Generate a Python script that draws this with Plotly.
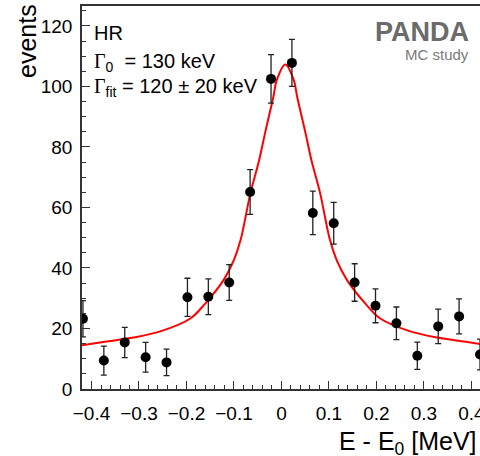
import plotly.graph_objects as go

# --- data ---
bin_centers = [-0.418, -0.374, -0.330, -0.286, -0.242, -0.198, -0.154, -0.110, -0.066, -0.022,
               0.022, 0.066, 0.110, 0.154, 0.198, 0.242, 0.286, 0.330, 0.374, 0.418]
events = [23.2, 9.4, 15.4, 10.5, 8.8, 30.3, 30.5, 35.2, 65.1, 102.5,
          107.8, 58.2, 54.8, 35.2, 27.5, 21.7, 11.0, 20.7, 24.0, 11.4]
errors = [6.0, 4.8, 5.0, 4.9, 4.4, 6.3, 5.9, 5.9, 7.4, 8.0,
          7.8, 7.2, 6.9, 6.2, 5.6, 5.4, 4.5, 5.7, 5.8, 5.1]

fit_x = [-0.422, -0.372, -0.312, -0.252, -0.192, -0.162, -0.122, -0.100, -0.086, -0.065,
         -0.048, -0.034, -0.017, -0.010, 0.008, 0.026, 0.033, 0.050, 0.064, 0.081,
         0.102, 0.116, 0.138, 0.178, 0.208, 0.268, 0.328, 0.388, 0.438]
fit_y = [14.4, 15.6, 17.0, 19.2, 23.3, 28.0, 36.0, 42.7, 49.3, 65.0,
         75.0, 85.0, 96.6, 102.1, 107.3, 102.1, 96.6, 85.0, 75.0, 65.0,
         49.3, 42.7, 36.0, 28.0, 23.3, 19.2, 17.0, 15.6, 14.4]

FONT = "Liberation Sans, Arial, Helvetica, sans-serif"

fig = go.Figure()
fig.add_trace(go.Scatter(
    x=fit_x, y=fit_y, mode="lines", line=dict(color="#ff0000", width=2, shape="spline"),
    hoverinfo="skip", showlegend=False))
fig.add_trace(go.Scatter(
    x=bin_centers, y=events, mode="markers",
    marker=dict(color="black", size=10),
    error_y=dict(type="data", array=errors, color="#222222", thickness=1.3, width=3),
    showlegend=False))

fig.update_layout(
    width=480, height=456,
    margin=dict(l=82, r=0, t=6, b=67, autoexpand=False),
    paper_bgcolor="white", plot_bgcolor="white",
    font=dict(family=FONT, color="black"),
    xaxis=dict(range=[-0.42, 0.418], tick0=0, dtick=0.1, ticks="inside", ticklen=8,
               tickcolor="#333", tickwidth=1, showline=True, linecolor="#333", linewidth=1.5,
               mirror=True, showgrid=False, zeroline=False, ticklabeloverflow="allow",
               automargin=False,
               tickfont=dict(size=19, family=FONT), ticklabelstandoff=6,
               minor=dict(dtick=0.02, ticks="inside", ticklen=4, tickcolor="#333", showgrid=False)),
    yaxis=dict(range=[0, 126.6], tick0=0, dtick=20, ticks="inside", ticklen=8,
               tickcolor="#333", tickwidth=1, showline=True, linecolor="#333", linewidth=1.5,
               showgrid=False, zeroline=False, automargin=False,
               tickfont=dict(size=19, family=FONT), ticklabelstandoff=4,
               minor=dict(dtick=5, ticks="inside", ticklen=4, tickcolor="#333", showgrid=False)),
)

G = '<span style="font-family:Liberation Serif, Times New Roman, serif">\u0393</span>'
anns = [
    dict(text="HR", x=92, y=33),
    dict(text=G + "<sub>0</sub>  = 130 keV", x=92, y=62),
    dict(text=G + "<sub>fit</sub> = 120 \u00b1 20 keV", x=92, y=88),
]
for a in anns:
    fig.add_annotation(text=a["text"], xref="paper", yref="paper",
                       x=(a["x"] - 82) / 398, y=1 - (a["y"] - 6) / 383,
                       xanchor="left", yanchor="middle", showarrow=False,
                       font=dict(size=20, family=FONT, color="black"))

fig.add_annotation(text="<b>PANDA</b>", xref="paper", yref="paper",
                   x=(471 - 82) / 398, y=1 - (32 - 6) / 383, xanchor="right", yanchor="middle",
                   showarrow=False, font=dict(size=27, family=FONT, color="#6b6b6b"))
fig.add_annotation(text="MC study", xref="paper", yref="paper",
                   x=(471 - 82) / 398, y=1 - (55 - 6) / 383, xanchor="right", yanchor="middle",
                   showarrow=False, font=dict(size=15, family=FONT, color="#7a7a7a"))

fig.add_annotation(text="events", xref="paper", yref="paper",
                   x=(27 - 82) / 398, y=1, xanchor="center", yanchor="top", yshift=4,
                   textangle=-90, showarrow=False, font=dict(size=25, family=FONT, color="black"))
fig.add_annotation(text="E - E<sub>0</sub> [MeV]", xref="paper", yref="paper",
                   x=1, y=0, xanchor="right", yanchor="top", yshift=-36, xshift=-1,
                   showarrow=False, font=dict(size=25, family=FONT, color="black"))

fig.write_html("out.html")
